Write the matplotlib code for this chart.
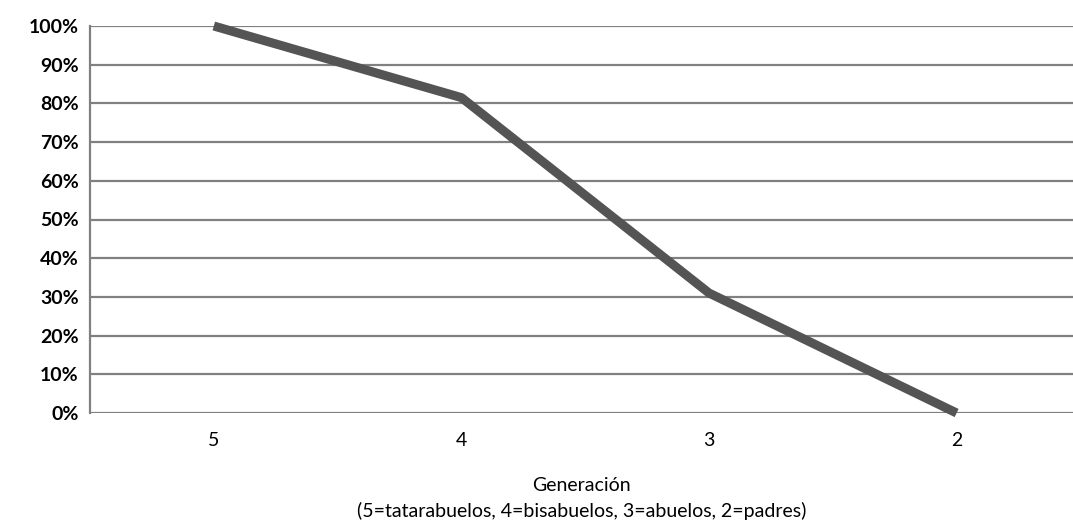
import matplotlib
matplotlib.use("Agg")
import matplotlib.pyplot as plt

generations = ["5", "4", "3", "2"]
share = [100, 81.5, 31, 0]
yticks = list(range(0, 101, 10))

plt.rcParams["font.family"] = ["Lato", "DejaVu Sans"]

fig = plt.figure(figsize=(10.73, 5.27), dpi=100)
ax = fig.add_axes([90 / 1073, 1 - 413 / 527, 1 - 90 / 1073, 387 / 527])

x = list(range(len(generations)))
ax.plot(x, share, color="#545454", linewidth=6.5, solid_capstyle="butt", zorder=3, clip_on=False)

ax.set_ylim(0, 100)
ax.set_xlim(-0.5, 3.47)
ax.set_yticks(yticks)
ax.set_yticklabels([f"{v}%" for v in yticks], fontsize=14, fontweight="bold")
ax.set_xticks(x)
ax.set_xticklabels(generations, fontsize=14)
ax.tick_params(length=0, pad=8)
ax.tick_params(axis="x", pad=14)
ax.yaxis.grid(True, color="#808080", linewidth=1.6)
ax.set_axisbelow(True)
for s in ["top", "right", "bottom"]:
    ax.spines[s].set_visible(False)
ax.spines["left"].set_color("#808080")
ax.spines["left"].set_linewidth(1.6)

ax.set_xlabel("Generación\n(5=tatarabuelos, 4=bisabuelos, 3=abuelos, 2=padres)",
              fontsize=14, labelpad=20, linespacing=1.5)

fig.savefig("out.png", dpi=100)
